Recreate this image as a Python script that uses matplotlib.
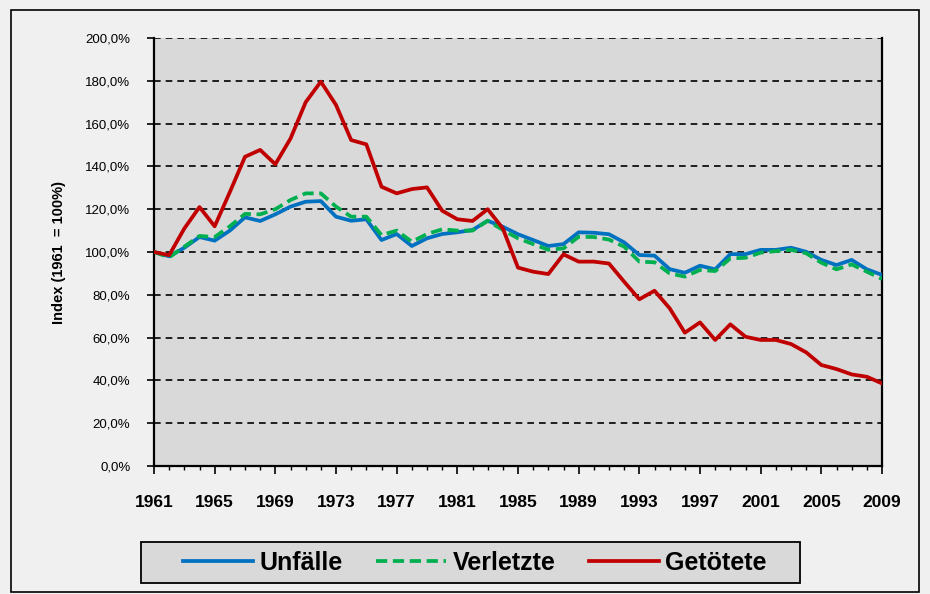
import matplotlib.pyplot as plt
from matplotlib.patches import Rectangle
from matplotlib.ticker import MultipleLocator, FuncFormatter

plt.rcParams['font.family'] = ['Liberation Sans', 'DejaVu Sans']

years = list(range(1961, 2010))
year_ticks = list(range(1961, 2010, 4))

# Index values (1961 = 100 %)
unfaelle = [100, 98, 102, 107, 105.3, 110, 116.2, 114.5, 117.6, 121.2,
            123.5, 123.8, 116.5, 114.6, 115.3, 105.6, 108.4, 102.8, 106.4, 108.4,
            109.2, 110.3, 114.6, 111.8, 108.3, 105.6, 102.8, 103.7, 109.2, 109,
            108.3, 104.5, 98.6, 98.3, 92, 90.3, 93.6, 91.9, 99, 99,
            101, 101, 102, 100.1, 96.3, 93.9, 96.3, 91.9, 89.3]
verletzte = [100, 97.5, 102.5, 107.5, 107, 112, 117.8, 117.6, 120, 124.3,
             127.4, 127.4, 121.2, 116.5, 116.5, 107.9, 110, 104.8, 108.4, 110.6,
             110, 110, 114.6, 110.3, 106.4, 103.7, 101, 101.7, 107.1, 107,
             105.8, 102.5, 95.5, 95.2, 90, 88.5, 91.6, 91.1, 97, 97.3,
             99.7, 100.4, 101, 99.4, 95, 91.9, 94.2, 90.8, 87.4]
getoetete = [100, 98.5, 111, 121, 112, 128, 144.5, 147.7, 141, 153,
             170, 179.6, 168.7, 152.3, 150.3, 130.5, 127.4, 129.4, 130.2, 119.3,
             115.3, 114.5, 120, 111, 92.7, 90.8, 89.7, 98.9, 95.5, 95.5,
             94.6, 86.1, 77.9, 81.9, 73.7, 62.3, 67.1, 58.9, 66.2, 60.4,
             58.9, 58.9, 57, 53.1, 47.2, 45.3, 42.8, 41.7, 38.6]

fig = plt.figure(figsize=(9.3, 5.94), dpi=100)
fig.patch.set_facecolor('#f0f0f0')
fig.patches.append(Rectangle((11 / 930, 1 - 592 / 594), 908 / 930, 582 / 594,
                             transform=fig.transFigure, fill=False,
                             edgecolor='black', linewidth=1.2))
# legend box (drawn separately so its padding matches the original)
fig.patches.append(Rectangle((141 / 930, 1 - 583 / 594), 659 / 930, 41 / 594,
                             transform=fig.transFigure, facecolor='#d9d9d9',
                             edgecolor='black', linewidth=1.3))

ax = fig.add_axes([154 / 930, 1 - 466 / 594, 728 / 930, 428 / 594])
ax.set_facecolor('#d9d9d9')

ax.plot(years, unfaelle, color='#0070c0', lw=2.7, label='Unfälle', zorder=3)
ax.plot(years, verletzte, color='#00b050', lw=2.7, ls=(0, (3, 1.5)),
        label='Verletzte', zorder=4)
ax.plot(years, getoetete, color='#c00000', lw=2.7, label='Getötete', zorder=5)

ax.set_xlim(1961, 2009)
ax.set_ylim(0, 200)
ax.set_xticks(year_ticks)
ax.set_xticklabels([str(y) for y in year_ticks], fontweight='bold')
ax.xaxis.set_minor_locator(MultipleLocator(1))
ax.yaxis.set_major_locator(MultipleLocator(20))
ax.yaxis.set_major_formatter(FuncFormatter(lambda v, p: f'{v:.1f}%'.replace('.', ',')))

ax.grid(axis='y', color='black', ls=(0, (4, 3)), lw=1.2)
ax.set_axisbelow(True)

for side in ['left', 'bottom', 'right']:
    ax.spines[side].set_linewidth(1.6)
ax.spines['top'].set_visible(False)

ax.tick_params(axis='y', direction='out', length=5, width=1.2, labelsize=9.5, pad=12)
ax.tick_params(axis='x', which='major', direction='out', length=6, width=1.2,
               labelsize=12.5, pad=15)
ax.tick_params(axis='x', which='minor', direction='out', length=3, width=1)

ax.set_ylabel('Index (1961  = 100%)', fontsize=10.5, fontweight='bold', labelpad=14)

leg = fig.legend(loc='center', bbox_to_anchor=(475 / 930, 1 - 563 / 594), ncol=3,
                 frameon=False, handlelength=2.8, columnspacing=1.35,
                 prop={'weight': 'bold', 'size': 18}, borderpad=0.2,
                 handletextpad=0.25)

fig.savefig('out.png', dpi=100, facecolor=fig.get_facecolor())
